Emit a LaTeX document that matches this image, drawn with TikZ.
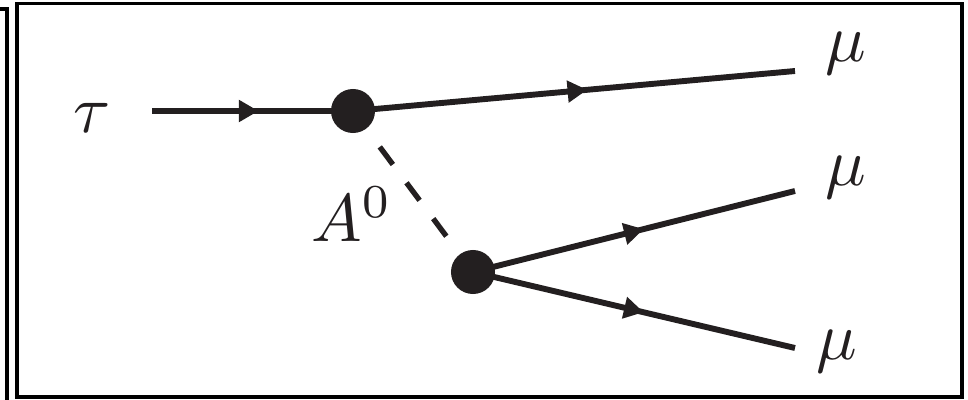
\documentclass[tikz,border=0pt]{standalone}
\usepackage{amsmath}
\usepackage{graphicx}
\usepackage{tikz}
\usepackage{xcolor}
\usetikzlibrary{arrows.meta,decorations.markings}
\definecolor{ink}{HTML}{231F20}
\newcommand{\bigsym}[1]{\scalebox{4.8}{$#1$}}

\begin{document}
\begin{tikzpicture}[x=0.025cm, y=-0.025cm,
  fermion/.style={line width=4.2pt, color=ink, postaction={decorate},
    decoration={markings, mark=at position 0.53 with {\arrow{Triangle[length=14pt,width=15pt]}}}},
  scalar/.style={line width=3.8pt, color=ink, dash pattern=on 15.6pt off 16.2pt,
    shorten <=16pt, shorten >=15.6pt},
  vertex/.style={circle, fill=ink, inner sep=0pt, minimum size=31.3pt},
  particle/.style={inner sep=0pt, anchor=base west, text=ink}]
  \useasboundingbox (0,0) rectangle (968,400);
  % frames
  \draw[line width=2.8pt] (0,9) -- (7,9) -- (7,400);
  \draw[line width=2.8pt] (17,3.5) rectangle (962,397);
  % vertices
  \node[vertex] (v1) at (353,111) {};
  \node[vertex] (v2) at (473,272) {};
  % external legs
  \coordinate (tin) at (152,111);
  \coordinate (m1) at (795,71);
  \coordinate (m2) at (795,191);
  \coordinate (m3) at (795,348);
  \node[particle] (tau) at (73,133) {\bigsym{\tau}};
  \node[particle] (mu1) at (825,62) {\bigsym{\mu}};
  \node[particle] (mu2) at (825,186) {\bigsym{\mu}};
  \node[particle] (mu3) at (816,359) {\bigsym{\mu}};
  \node[particle] (a0) at (311,242) {\bigsym{A^0}};
  \draw[fermion] (tin) -- (v1.center);
  \draw[fermion] (v1.center) -- (m1);
  \draw[fermion] (v2.center) -- (m2);
  \draw[fermion] (v2.center) -- (m3);
  \draw[scalar] (v1) -- (v2);
\end{tikzpicture}
\end{document}
